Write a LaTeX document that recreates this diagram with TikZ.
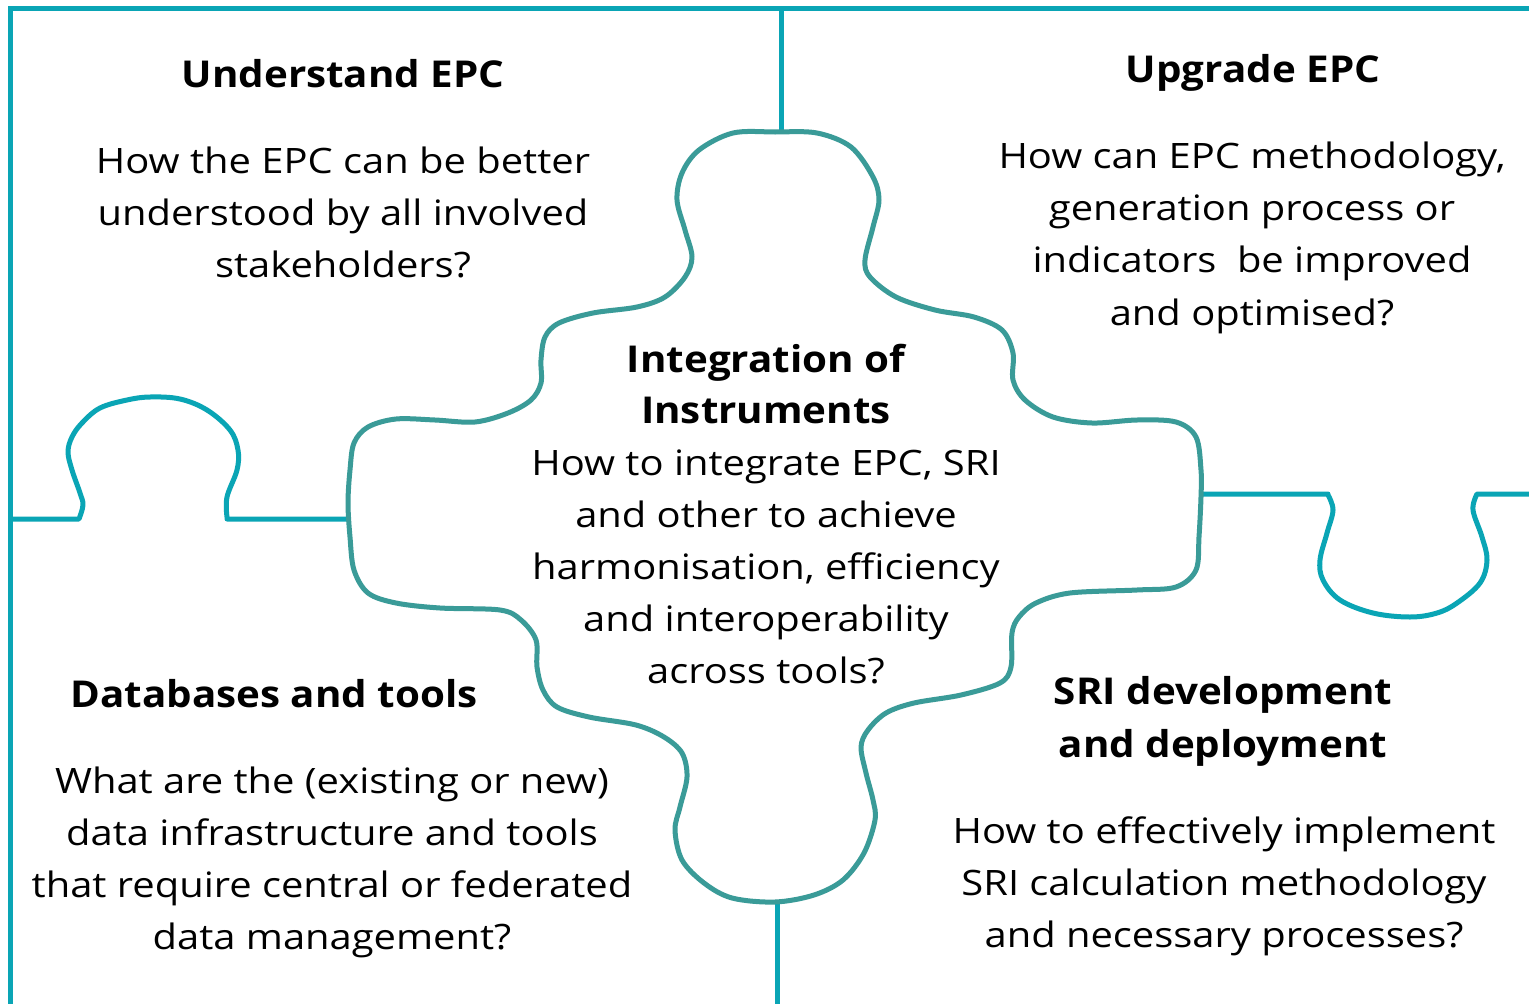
\documentclass[tikz,border=0pt]{standalone}
\usepackage{fontspec}
\setmainfont{Open Sans}
\newfontfamily\bodyfont[FakeStretch=1.14]{Open Sans}
\newfontfamily\headfont[FakeStretch=1.09]{Open Sans}
\definecolor{frame}{HTML}{0AA5B5}
\definecolor{piece}{HTML}{3A9B98}
\begin{document}
\begin{tikzpicture}[x=1pt,y=-1pt,
  frameline/.style={draw=frame,line width=5pt,line join=round},
  pieceline/.style={draw=piece,line width=5pt,line join=round},
  body/.style={font=\bodyfont\fontsize{35}{52}\selectfont,anchor=base,inner sep=0pt},
  head/.style={font=\headfont\bfseries\fontsize{37}{52}\selectfont,anchor=base,inner sep=0pt}]
\useasboundingbox (0,0) rectangle (1529,1004);
\fill[white] (0,0) rectangle (1529,1004);
% frame
\draw[frameline,line join=miter] (10,1004) -- (10,8) -- (1529,8);
\draw[frameline] (781,8) -- (781,133);
\draw[frameline] (777,902) -- (777,1004);
\draw[frameline] (10,519) -- (79,519) -- plot[smooth,tension=0.6] coordinates {(79,519) (83,505) (80,493) (72,470) (68,452) (72,437) (82,423) (100,408) (127,400) (150,397) (180,399) (207,410) (230,430) (238,450) (237,470) (227,497) (227,517)} -- (227,519) -- (350,519);
\draw[frameline] (1201,494) -- (1328,494) -- plot[smooth,tension=0.6] coordinates {(1328,495) (1333,510) (1327,533) (1320,560) (1323,580) (1340,600) (1373,613) (1410,617) (1437,613) (1457,603) (1480,583) (1487,560) (1482,537) (1473,510) (1477,494)} -- (1529,494);
% central piece
\draw[pieceline] plot[smooth cycle,tension=0.55] coordinates {
(733,133) (775,132) (817,133) (851,147) (873,177) (879,200) (873,227) (865,260) (870,277) (896,297) (935,310) (974,317) (1002,330) (1013,353) (1013,380) (1025,400) (1053,417) (1092,423) (1137,420) (1176,422) (1196,437) (1201,470) (1201,497) (1199,537) (1196,570) (1176,587) (1137,590) (1070,593) (1036,603) (1019,617) (1012,633) (1011,667) (1000,683) (961,695) (914,703) (886,713) (868,730) (861,747) (866,773) (873,800) (875,820) (864,853) (843,880) (814,895) (775,902) (732,898) (704,883) (682,860) (675,830) (680,807) (687,777) (682,753) (664,737) (636,725) (589,717) (557,707) (543,690) (537,667) (536,640) (521,620) (500,610) (440,608) (396,603) (368,593) (354,570) (350,537) (348,503) (350,470) (354,443) (368,427) (396,419) (435,420) (475,422) (508,413) (531,400) (541,383) (541,360) (545,337) (559,323) (593,313) (637,307) (665,297) (685,277) (692,257) (685,230) (677,200) (682,173) (699,150)};
% texts
\node[head] (h1) at (343,87) {Understand EPC};
\node[body] (a1) at (343,173) {How the EPC can be better};
\node[body] (a2) at (343,225) {understood by all involved};
\node[body] (a3) at (343,277) {stakeholders?};
\node[head] (h2) at (1253,82) {Upgrade EPC};
\node[body] (b1) at (1252,168) {How can EPC methodology,};
\node[body] (b2) at (1252,220) {generation process or};
\node[body] (b3) at (1252,272) {indicators\ \ be improved};
\node[body] (b4) at (1252,325) {and optimised?};
\node[head] (h3) at (766,372) {Integration of};
\node[head] (h3b) at (766,423) {Instruments};
\node[body] (c1) at (766,475) {How to integrate EPC, SRI};
\node[body] (c2) at (766,527) {and other to achieve};
\node[body] (c3) at (766,579) {harmonisation, efficiency};
\node[body] (c4) at (766,631) {and interoperability};
\node[body] (c5) at (766,683) {across tools?};
\node[head] (h4) at (274,707) {Databases and tools};
\node[body] (d1) at (332,793) {What are the (existing or new)};
\node[body] (d2) at (332,845) {data infrastructure and tools};
\node[body] (d3) at (332,897) {that require central or federated};
\node[body] (d4) at (332,949) {data management?};
\node[head] (h5) at (1223,704) {SRI development};
\node[head] (h5b) at (1223,757) {and deployment};
\node[body] (e1) at (1224,843) {How to effectively implement};
\node[body] (e2) at (1224,895) {SRI calculation methodology};
\node[body] (e3) at (1224,947) {and necessary processes?};
\end{tikzpicture}
\end{document}
